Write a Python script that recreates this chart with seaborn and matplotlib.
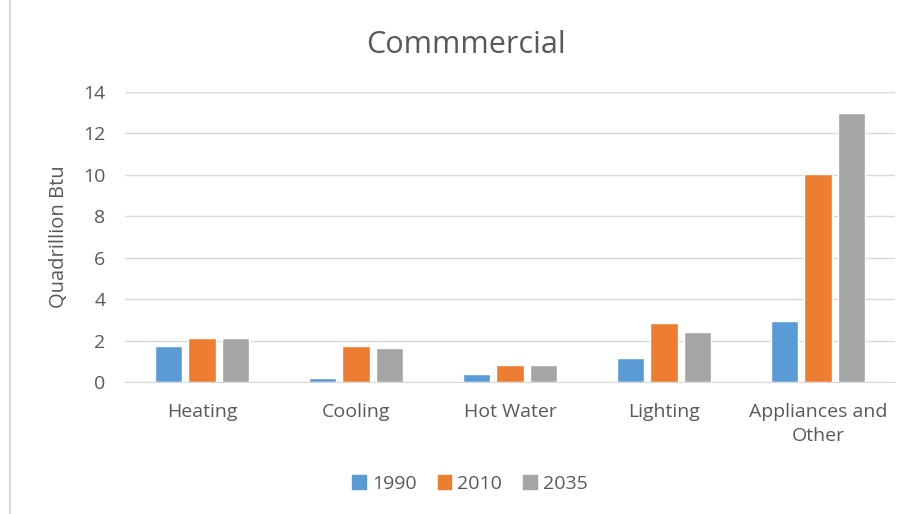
import matplotlib
matplotlib.use("Agg")
import matplotlib.pyplot as plt
import pandas as pd
import seaborn as sns
from matplotlib.lines import Line2D

# values
categories = ["Heating", "Cooling", "Hot Water", "Lighting", "Appliances and\nOther"]
years = ["1990", "2010", "2035"]
values_1990 = [1.74, 0.21, 0.41, 1.16, 2.94]
values_2010 = [2.13, 1.74, 0.80, 2.87, 10.03]
values_2035 = [2.13, 1.64, 0.80, 2.42, 12.97]
colors = ["#5B9BD5", "#ED7D31", "#A5A5A5"]

text_color = "#595959"

df = pd.DataFrame({
    "category": categories * 3,
    "year": [y for y in years for _ in categories],
    "value": values_1990 + values_2010 + values_2035,
})

sns.set_style("white")
plt.rcParams["font.family"] = ["Open Sans", "DejaVu Sans"]

fig = plt.figure(figsize=(9.11, 5.14), dpi=100)
ax = fig.add_axes([125 / 911, 1 - 382 / 514, 770 / 911, 290 / 514])

sns.barplot(data=df, x="category", y="value", hue="year", palette=colors,
            width=0.66, gap=0.2, ax=ax, legend=False, saturation=1)

ax.set_xlim(-0.5, 4.5)
ax.set_ylim(0, 14)
ax.set_yticks(range(0, 15, 2))
ax.yaxis.grid(True, color="#D9D9D9", linewidth=1)
ax.set_axisbelow(True)
for side in ["top", "right", "left"]:
    ax.spines[side].set_visible(False)
ax.spines["bottom"].set_color("#D9D9D9")
ax.tick_params(axis="x", length=0, pad=15, labelsize=14, labelcolor=text_color)
ax.tick_params(axis="y", length=0, pad=14, labelsize=14, labelcolor=text_color)
for lbl in ax.get_xticklabels():
    lbl.set_linespacing(1.45)
ax.set_xlabel("")
ax.set_ylabel("Quadrillion Btu", fontsize=14.5, color=text_color)
ax.yaxis.set_label_coords(-56 / 770, 0.5)

fig.text(466 / 911, 1 - 45 / 514, "Commmercial", ha="center", va="center",
         fontsize=22, color=text_color)

handles = [plt.Rectangle((0, 0), 1, 1, color=c) for c in colors]
fig.legend(handles, years, loc="center", bbox_to_anchor=(470 / 911, 1 - 484 / 514),
           ncol=3, frameon=False, fontsize=14, labelcolor=text_color,
           handlelength=0.7, handleheight=0.7, handletextpad=0.3, columnspacing=1.1)

# chart border on the left edge
fig.add_artist(Line2D([10 / 911, 10 / 911], [0, 1], transform=fig.transFigure,
                      color="#D9D9D9", linewidth=1.5))

fig.savefig("out.png", dpi=100)
